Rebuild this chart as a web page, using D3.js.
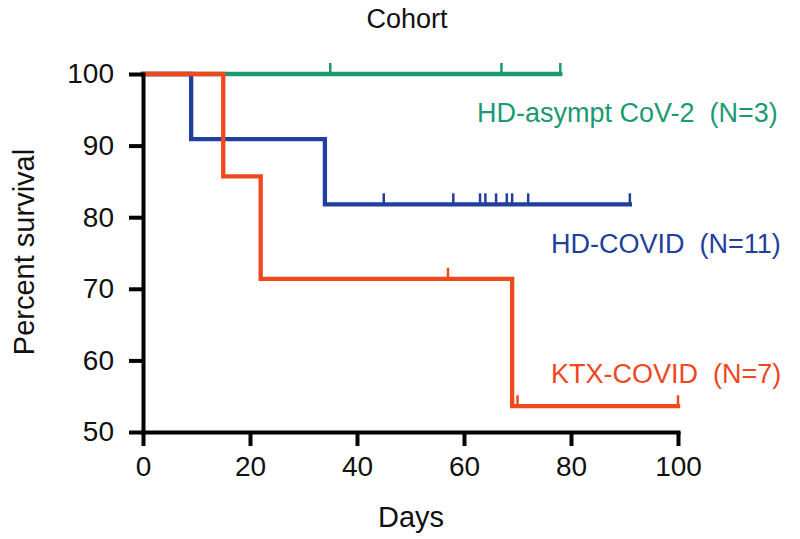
<!DOCTYPE html>
<html><head><meta charset="utf-8">
<script src="https://cdn.jsdelivr.net/npm/d3@7"></script>
<style>body{margin:0;background:#fff}svg{display:block}text{font-family:"Liberation Sans",Arial,sans-serif}</style>
</head><body><svg id="c" width="800" height="539"></svg>
<script>
const xTicks = [0, 20, 40, 60, 80, 100];
const yTicks = [50, 60, 70, 80, 90, 100];
const seriesNames = ["HD-asympt CoV-2  (N=3)", "HD-COVID  (N=11)", "KTX-COVID  (N=7)"];
const seriesColors = ["#1b9a72", "#213f9e", "#f0481e"];
const greenTimes = [0, 78];
const greenSurv = [100, 100];
const greenCensor = [35, 67, 78];
const blueTimes = [0, 9, 34, 91];
const blueSurv = [100, 90.9, 81.8, 81.8];
const blueCensor = [45, 58, 63, 64, 66, 68, 69, 72, 91];
const redTimes = [0, 15, 22, 69, 100];
const redSurv = [100, 85.7, 71.4, 53.6, 53.6];
const redCensor = [57, 70, 100];

const svg = d3.select("#c");
const x = d3.scaleLinear().domain([0, 100]).range([143, 678]);
const y = d3.scaleLinear().domain([50, 100]).range([432, 74]);

const series = [
  {times: greenTimes, surv: greenSurv, censor: greenCensor, name: seriesNames[0], color: seriesColors[0], lx: 477, ly: 122},
  {times: blueTimes, surv: blueSurv, censor: blueCensor, name: seriesNames[1], color: seriesColors[1], lx: 551, ly: 253},
  {times: redTimes, surv: redSurv, censor: redCensor, name: seriesNames[2], color: seriesColors[2], lx: 551, ly: 383}
];

const line = d3.line().x(d => x(d[0])).y(d => y(d[1])).curve(d3.curveStepAfter);

function survAt(s, t) {
  let v = s.surv[0];
  for (let i = 0; i < s.times.length; i++) if (s.times[i] <= t) v = s.surv[i];
  return v;
}

series.forEach(s => {
  const pts = s.times.map((t, i) => [t, s.surv[i]]);
  svg.append("path").attr("d", line(pts)).attr("fill", "none")
    .attr("stroke", s.color).attr("stroke-width", 4.3).attr("stroke-linejoin", "miter").attr("stroke-linecap", "square");
  svg.append("g").selectAll("line").data(s.censor).join("line")
    .attr("x1", d => x(d)).attr("x2", d => x(d))
    .attr("y1", d => y(survAt(s, d))).attr("y2", d => y(survAt(s, d)) - 11)
    .attr("stroke", s.color).attr("stroke-width", 2.5);
  svg.append("text").attr("x", s.lx).attr("y", s.ly).attr("fill", s.color)
    .attr("font-size", 27).style("white-space", "pre").text(s.name);
});

const xAxis = svg.append("g").attr("transform", "translate(0,432)")
  .call(d3.axisBottom(x).tickValues(xTicks).tickSize(14).tickSizeOuter(0).tickPadding(10));
const yAxis = svg.append("g").attr("transform", "translate(143,0)")
  .call(d3.axisLeft(y).tickValues(yTicks).tickSize(14).tickSizeOuter(0).tickPadding(15));
[xAxis, yAxis].forEach(a => {
  a.select(".domain").attr("stroke", "#000").attr("stroke-width", 4).attr("stroke-linecap", "square");
  a.selectAll(".tick line").attr("stroke", "#000").attr("stroke-width", 4);
  a.selectAll(".tick text").attr("fill", "#111").attr("font-size", 28).attr("font-family", "Liberation Sans, Arial, sans-serif");
});
xAxis.selectAll(".tick text").attr("dy", "0.71em");

svg.append("text").attr("x", 407).attr("y", 28).attr("text-anchor", "middle").attr("font-size", 27).attr("fill", "#111").text("Cohort");
svg.append("text").attr("x", 411).attr("y", 527).attr("text-anchor", "middle").attr("font-size", 29).attr("fill", "#111").text("Days");
svg.append("text").attr("transform", "translate(34,252) rotate(-90)").attr("text-anchor", "middle").attr("font-size", 29).attr("fill", "#111").text("Percent survival");
</script></body></html>
